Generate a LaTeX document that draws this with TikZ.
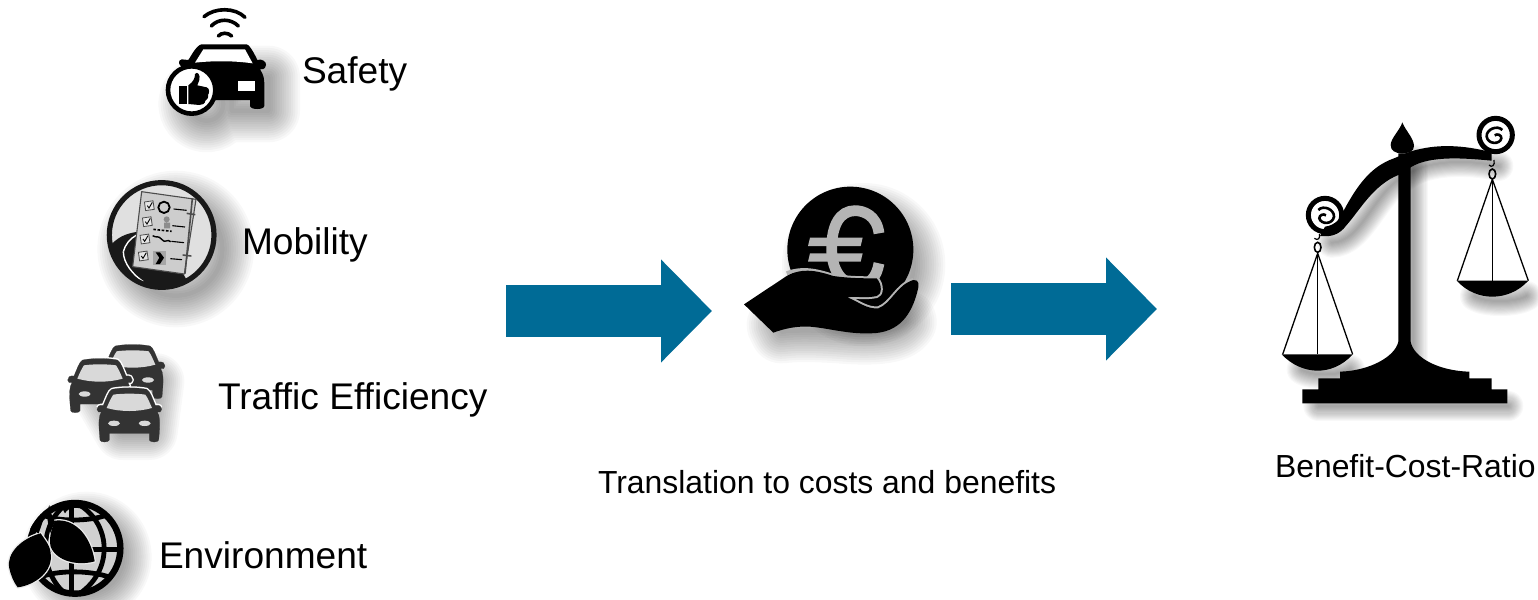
\documentclass[tikz,border=0pt]{standalone}
\usepackage{fontspec}
\setmainfont{Liberation Sans}
\usetikzlibrary{arrows.meta}
\definecolor{arrowblue}{HTML}{006B96}
\definecolor{carcol}{HTML}{333333}
\definecolor{eurocol}{HTML}{B4B4B4}
\definecolor{papercol}{HTML}{CDCDCD}
% blurred shadow: #1 offset, #2 largest stroke width (zoom units), #3 path
\newcommand{\softshadow}[3]{%
  \begin{scope}[shift={#1},line join=round,line cap=round]
    \foreach \k in {1,...,14} {\path[draw=black,draw opacity=.028,line width={#2*\k/14*.16667pt}] #3;}
  \end{scope}}
\newcommand{\bigcar}[4]{% x y halo width
  \begin{scope}[shift={(#1,#2)}]
    \path[fill=carcol,draw=#3,line width=#4,line join=round]
      (-52,-80) .. controls (-25,-86) and (25,-86) .. (52,-80)
      .. controls (62,-76) and (70,-50) .. (78,-32)
      .. controls (90,-34) and (98,-28) .. (97,-20)
      .. controls (97,-12) and (90,-10) .. (84,-12)
      .. controls (92,0) and (92,20) .. (90,50)
      -- (88,72) .. controls (87,80) and (62,80) .. (60,72) -- (60,52)
      -- (-60,52) -- (-60,72) .. controls (-62,80) and (-87,80) .. (-88,72)
      -- (-90,50) .. controls (-92,20) and (-92,0) .. (-84,-12)
      .. controls (-90,-10) and (-97,-12) .. (-97,-20)
      .. controls (-98,-28) and (-90,-34) .. (-78,-32)
      .. controls (-70,-50) and (-62,-76) .. (-52,-80) -- cycle;
    \path[fill=white!85!black]
      (-48,-64) .. controls (-25,-68) and (25,-68) .. (48,-64)
      .. controls (55,-55) and (62,-38) .. (68,-24)
      .. controls (25,-12) and (-25,-12) .. (-68,-24)
      .. controls (-62,-38) and (-55,-55) .. (-48,-64) -- cycle;
    \path[fill=white!85!black] (-46,22) ellipse[x radius=18,y radius=8];
    \path[fill=white!85!black] (46,22) ellipse[x radius=18,y radius=8];
  \end{scope}}
\begin{document}
\begin{tikzpicture}[x=.5pt,y=-.5pt,
  zs/.style 2 args={shift={(#1,#2)},x=.16667pt,y=-.16667pt},
  lab/.style={anchor=base west,inner sep=0pt,outer sep=0pt,font=\fontsize{18.55pt}{22pt}\selectfont},
  labs/.style={anchor=base west,inner sep=0pt,outer sep=0pt,font=\fontsize{15.95pt}{19pt}\selectfont},
  bigarrow/.style={draw=arrowblue,line width=26pt,-{Triangle[length=25.5pt,width=50pt,fill=arrowblue]}},
  wifi/.style={draw=black,line width=1.8pt},
  ink/.style={fill=black},
  str/.style={draw=black,line width=.65pt}]
\useasboundingbox (0,0) rectangle (1538,600);
\fill[white] (0,0) rectangle (1538,600);

%%% ---------- Safety icon
\begin{scope}[zs={140}{0}]
  \softshadow{(45,42)}{190}{(155,270) circle[radius=50] (230,190) -- (340,190) -- (340,290) -- (230,290) -- cycle}
  \draw[wifi,line cap=round] (192,50) .. controls (225,22) and (285,22) .. (315,52);
  \draw[wifi,line cap=round] (214,78) .. controls (235,55) and (272,55) .. (295,78);
  \draw[wifi,line cap=round] (235,108) .. controls (245,97) and (263,97) .. (275,108);
  \path[ink] (185,133) -- (320,133) .. controls (330,135) and (345,165) .. (352,180)
    .. controls (365,175) and (380,185) .. (378,195) .. controls (376,208) and (365,210) .. (360,208)
    .. controls (372,225) and (373,240) .. (373,255) -- (373,318)
    .. controls (372,330) and (332,330) .. (330,318) -- (330,300) -- (180,300) -- (130,200)
    .. controls (115,200) and (112,180) .. (125,178) -- (145,180)
    .. controls (155,165) and (170,135) .. (185,133) -- cycle;
  \path[fill=white] (165,188) -- (190,148) -- (315,148) -- (338,190) .. controls (280,182) and (220,182) .. (165,188) -- cycle;
  \path[fill=white] (293,243) rectangle (345,272);
  \path[fill=white,draw=black,line width=2.3pt] (155,270) circle[radius=71];
  \path[ink] (118,258) rectangle (140,312);
  \path[ink] (145,256) .. controls (160,245) and (165,235) .. (165,222)
    .. controls (172,212) and (182,225) .. (178,240) -- (172,256) -- (200,262)
    .. controls (210,265) and (208,280) .. (204,285) .. controls (206,295) and (200,300) .. (196,302)
    .. controls (196,312) and (185,315) .. (178,315) -- (145,312) -- cycle;
\end{scope}

%%% ---------- Mobility icon
\begin{scope}[zs={90}{170}]
  \softshadow{(42,42)}{190}{(215,195) circle[radius=140]}
  \path[fill=white!88!black] (215,195) circle[radius=160];
  \begin{scope}
    \clip (215,195) circle[radius=160];
    \path[fill=black!90] (55,235) .. controls (80,200) and (110,190) .. (145,185)
      -- (128,290) -- (280,312) .. controls (290,330) and (300,345) .. (300,365)
      -- (180,370) -- (60,300) -- cycle;
    \draw[white,line width=.7pt] (100,245) .. controls (105,225) and (120,205) .. (140,195);
    \draw[white,line width=.7pt] (100,245) .. controls (100,280) and (130,315) .. (160,335);
  \end{scope}
  \draw[black!90,line width=2.6pt] (215,195) circle[radius=157];
  \path[fill=papercol,draw=black!70,line width=.55pt,line join=round]
    (155,65) -- (318,88) -- (283,312) -- (128,290) -- cycle;
  \draw[black!70,line width=.8pt] (307,85) -- (285,311);
  \draw[black!70,line width=.8pt] (290,130) -- (316,134);
  \draw[black!70,line width=.8pt] (278,255) -- (304,258);
  \foreach \cx/\cy in {178/107,172/155,165/207,160/258} {
    \path[fill=white!90!black,draw=black!70,line width=.4pt,rotate around={8:(\cx,\cy)}] (\cx-13,\cy-13) rectangle (\cx+13,\cy+13);
    \draw[black,line width=.45pt] (\cx-6,\cy) -- (\cx-1,\cy+7) -- (\cx+9,\cy-10);
  }
  \draw[black,line width=.9pt] (222,112) circle[radius=17];
  \draw[black,line width=.55pt] (251,117) -- (290,121);
  \path[fill=black!45] (230,148) circle[radius=9] (222,158) rectangle (240,175);
  \draw[black,line width=.8pt,dash pattern=on 1.3pt off .8pt] (190,178) -- (245,184);
  \draw[black,line width=.55pt] (247,167) -- (285,171);
  \draw[black,line width=.7pt] (188,197) .. controls (200,205) and (205,195) .. (215,208) .. controls (225,222) and (232,205) .. (242,215);
  \draw[black,line width=.55pt] (244,214) -- (282,218);
  \path[fill=black!35] (190,242) rectangle (228,285);
  \path[ink] (197,247) -- (210,247) -- (222,263) -- (210,282) -- (197,282) -- (208,263) -- cycle;
  \draw[black,line width=.55pt] (241,266) -- (276,269);
\end{scope}

%%% ---------- Traffic icon
\begin{scope}[zs={50}{330}]
  \softshadow{(38,35)}{170}{(110,150) -- (280,120) -- (260,270) -- (180,270) -- cycle}
  \bigcar{248}{128}{carcol}{.1pt}
  \begin{scope}
    \clip (160,40) rectangle (340,250);
    \bigcar{150}{170}{white}{1.6pt}
  \end{scope}
  \bigcar{150}{170}{carcol}{.1pt}
  \begin{scope}
    \clip (120,150) rectangle (340,230);
    \bigcar{238}{258}{white}{1.6pt}
  \end{scope}
  \bigcar{238}{258}{carcol}{.1pt}
\end{scope}

%%% ---------- Environment icon
\begin{scope}[zs={0}{490}]
  \softshadow{(35,25)}{170}{(225,175) circle[radius=110]}
  \path[fill=white!82!black] (225,175) circle[radius=138];
  \begin{scope}
    \clip (225,175) circle[radius=140];
    \draw[black,line width=2.4pt] (215,30) -- (215,330);
    \draw[black,line width=2.4pt] (60,178) -- (370,178);
    \draw[black,line width=2.4pt] (120,262) .. controls (170,240) and (270,240) .. (330,262);
    \draw[black,line width=2.4pt] (130,75) .. controls (170,95) and (270,95) .. (320,75);
    \draw[black,line width=2.4pt] (215,32) .. controls (345,90) and (345,260) .. (215,325);
    \draw[black,line width=2.4pt] (215,32) .. controls (110,90) and (110,260) .. (215,325);
  \end{scope}
  \draw[black,line width=3.2pt] (225,175) circle[radius=136];
  \def\leafA{(165,92) .. controls (215,85) and (270,125) .. (284,214)
    .. controls (235,228) and (170,215) .. (152,170) .. controls (146,145) and (155,115) .. (165,92) -- cycle}
  \def\leafB{(122,130) .. controls (65,145) and (18,190) .. (28,235) .. controls (32,255) and (42,278) .. (53,292)
    .. controls (105,285) and (160,245) .. (152,190) .. controls (150,165) and (135,150) .. (122,130) -- cycle}
  \path[draw=white!92!black,line width=1.3pt,line join=round] \leafA;
  \path[draw=white!92!black,line width=1.3pt,line join=round] \leafB;
  \path[ink] \leafA;
  \path[ink] \leafB;
  \path[ink] (148,45) .. controls (150,60) and (155,80) .. (165,95) -- (150,130)
    .. controls (145,110) and (143,90) .. (140,70) -- cycle;
  \path[ink] (136,72) -- (116,130) -- (90,118) .. controls (100,95) and (120,75) .. (136,72) -- cycle;
  \path[ink] (178,40) .. controls (200,28) and (240,28) .. (265,42) -- (255,60) .. controls (235,50) and (205,50) .. (195,70) -- cycle;
\end{scope}

%%% ---------- Euro icon
\begin{scope}[zs={730}{170}]
  \softshadow{(40,45)}{190}{(361,239) circle[radius=150]}
  \softshadow{(25,55)}{190}{(120,410) -- (180,370) -- (440,390) -- (500,400) .. controls (480,430) and (420,440) .. (300,430) .. controls (220,425) and (170,425) .. (130,430) -- cycle}
  \path[ink] (361,239) circle[radius=189];
  \draw[eurocol,line width=5.4pt] (447,190) .. controls (440,135) and (400,122) .. (375,122)
     .. controls (330,122) and (305,165) .. (305,235) .. controls (305,300) and (335,345) .. (385,345)
     .. controls (420,345) and (440,320) .. (447,280);
  \path[fill=eurocol] (240,203) -- (398,203) -- (392,228) -- (234,228) -- cycle;
  \path[fill=eurocol] (240,250) -- (398,250) -- (392,275) -- (234,275) -- cycle;
  % gap line round the hand's upper edge
  \draw[eurocol,line width=2pt,line join=round] (170,310) .. controls (220,290) and (270,305) .. (310,318)
     .. controls (360,325) and (400,325) .. (440,325)
     .. controls (458,345) and (455,375) .. (440,378)
     .. controls (410,385) and (375,378) .. (352,382)
     .. controls (385,395) and (410,418) .. (445,415)
     .. controls (485,400) and (500,345) .. (550,330);
  \path[ink] (42,403) -- (170,318) .. controls (220,290) and (270,305) .. (310,318)
     .. controls (360,325) and (400,325) .. (440,325)
     .. controls (458,345) and (455,375) .. (440,378)
     .. controls (410,385) and (375,378) .. (352,382)
     .. controls (385,395) and (410,418) .. (445,415)
     .. controls (485,400) and (500,345) .. (550,330)
     .. controls (568,328) and (568,345) .. (562,365)
     .. controls (545,430) and (510,490) .. (420,490)
     .. controls (350,492) and (300,475) .. (240,470)
     .. controls (200,468) and (165,475) .. (130,488) -- cycle;
\end{scope}

%%% ---------- Scale icon
\begin{scope}[zs={1270}{110}]
  \softshadow{(25,28)}{90}{(120,860) -- (690,860)}
  \softshadow{(25,28)}{90}{(403,120) -- (403,780)}
  \softshadow{(25,28)}{90}{(660,140) .. controls (540,115) and (430,130) .. (380,170) .. controls (290,210) and (250,370) .. (160,370)}
  \softshadow{(25,28)}{90}{(70,750) .. controls (100,770) and (180,770) .. (215,750)}
  \softshadow{(25,28)}{90}{(590,530) .. controls (620,550) and (710,550) .. (745,530)}
  % post and base
  \path[ink] (385,130) -- (422,130) -- (422,695) .. controls (430,740) and (500,782) .. (598,785)
    -- (598,805) -- (665,805) -- (665,838) -- (712,838) -- (712,880) -- (97,880) -- (97,838)
    -- (145,838) -- (145,805) -- (210,805) -- (210,785)
    .. controls (300,782) and (375,740) .. (385,695) -- cycle;
  % finial
  \path[ink] (397,37) .. controls (405,60) and (432,85) .. (432,108) .. controls (432,125) and (415,130) .. (397,130)
    .. controls (375,130) and (362,122) .. (362,105) .. controls (362,85) and (390,60) .. (397,37) -- cycle;
  % beam
  \path[ink] (420,125) .. controls (500,100) and (580,105) .. (665,127) -- (665,152)
    .. controls (590,145) and (480,135) .. (422,172) -- (385,195)
    .. controls (310,225) and (270,300) .. (230,345) .. controls (205,380) and (175,380) .. (150,378)
    -- (165,350) .. controls (200,345) and (215,320) .. (222,300)
    .. controls (260,230) and (300,170) .. (372,145) -- cycle;
  % scrolls
  \draw[black,line width=2.5pt] (677,75) circle[radius=50];
  \draw[black,line width=1.3pt] (697,60) .. controls (682,44) and (648,58) .. (650,80)
    .. controls (654,104) and (690,104) .. (694,85) .. controls (695,75) and (682,70) .. (674,76);
  \draw[black,line width=2.5pt] (165,315) circle[radius=50];
  \draw[black,line width=1.3pt] (145,300) .. controls (160,284) and (193,298) .. (192,320)
    .. controls (188,344) and (153,344) .. (148,325) .. controls (148,315) and (160,310) .. (168,316);
  % left pan
  \draw[black,line width=.6pt] (148,372) .. controls (152,385) and (143,393) .. (133,385);
  \draw[black,line width=.8pt] (143,412) ellipse[x radius=10,y radius=15];
  \draw[str,line join=round] (38,733) -- (143,430) -- (248,733);
  \draw[str] (143,430) -- (143,733);
  \path[ink] (35,733) -- (248,733) .. controls (215,770) and (175,782) .. (143,782) .. controls (105,782) and (65,765) .. (35,733) -- cycle;
  % right pan
  \draw[black,line width=.6pt] (672,150) .. controls (676,165) and (665,175) .. (657,165);
  \draw[black,line width=.8pt] (667,192) ellipse[x radius=10,y radius=15];
  \draw[str,line join=round] (562,512) -- (667,208) -- (775,512);
  \draw[str] (667,208) -- (667,512);
  \path[ink] (560,512) -- (775,512) .. controls (745,545) and (705,560) .. (667,560) .. controls (630,560) and (590,545) .. (560,512) -- cycle;
\end{scope}

%%% ---------- Arrows
\coordinate (a1s) at (506,311);
\coordinate (a1e) at (712,311);
\coordinate (a2s) at (951,309);
\coordinate (a2e) at (1157,309);
\draw[bigarrow] (a1s) -- (a1e);
\draw[bigarrow] (a2s) -- (a2e);

%%% ---------- Labels
\node[lab] (safety) at (302,83) {Safety};
\node[lab] (mobility) at (242,254) {Mobility};
\node[lab] (traffic) at (218,409) {Traffic Efficiency};
\node[lab] (environment) at (159,568) {Environment};
\node[labs] (translation) at (598,493) {Translation to costs and benefits};
\node[labs] (bcr) at (1275,477) {Benefit-Cost-Ratio};
\end{tikzpicture}
\end{document}
